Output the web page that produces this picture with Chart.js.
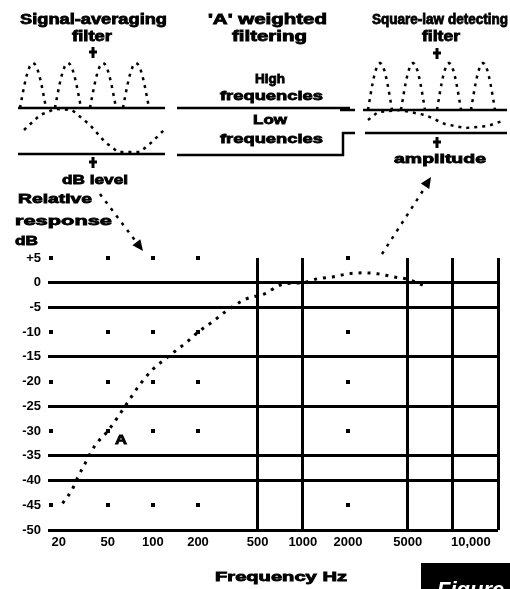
<!DOCTYPE html>
<html>
<head>
<meta charset="utf-8">
<script src="https://cdn.jsdelivr.net/npm/chart.js@4/dist/chart.umd.min.js"></script>
<style>
  html, body { margin: 0; padding: 0; background: #fff; }
  #wrap { width: 510px; height: 589px; position: relative; overflow: hidden; }
</style>
</head>
<body>
<div id="wrap"><canvas id="chart" width="510" height="589"></canvas></div>
<script>
// Frequency axis (Hz, logarithmic) and its printed labels
const freqTicks = [20, 50, 100, 200, 500, 1000, 2000, 5000, 10000, 20000];
const freqLabels = ['\u2007\u2007\u200720', '50', '100', '200', '500', '1000', '2000', '5000', '\u2007\u2007\u2007\u2007\u200710,000', ''];

// Relative response axis (dB)
const levelTicks = [5, 0, -5, -10, -15, -20, -25, -30, -35, -40, -45, -50];
const levelLabels = ['+5', '0', '-5', '-10', '-15', '-20', '-25', '-30', '-35', '-40', '-45', '-50'];

// Grid lines printed as full rules; the rest only show as dots at crossings
const solidLevels = [0, -5, -15, -25, -35, -40, -50];
const solidFreqs = [500, 1000, 5000, 10000, 20000];

// 'A'-weighting response curve
const responseFreq  = [25, 29, 31.5, 35, 41, 50, 58, 70, 80, 100, 120, 140, 170, 200, 250, 300, 410, 580, 650, 760, 1000, 1250, 1600, 2000, 2500, 3150, 4000, 5000, 6300];
const responseLevel = [-44.6, -41.8, -39.4, -36.8, -33, -30, -27.3, -23.6, -21, -17.5, -15.5, -13.9, -11.9, -10, -7.9, -6, -3.4, -2, -1, -0.2, 0, 0.8, 1.2, 1.8, 2, 1.8, 1.2, 0.7, -0.5];

const FONT = "'Liberation Sans', Arial, sans-serif";

// Draw text squeezed or stretched to span x1..x2, vertically centred on y
function fitText(ctx, str, x1, x2, y, size) {
  ctx.save();
  ctx.font = 'bold ' + size + 'px ' + FONT;
  ctx.fillStyle = '#000';
  ctx.strokeStyle = '#000';
  ctx.lineWidth = 0.8;
  ctx.textBaseline = 'middle';
  ctx.textAlign = 'left';
  const w = ctx.measureText(str).width;
  ctx.translate(x1, y);
  ctx.scale((x2 - x1) / w, 1);
  ctx.fillText(str, 0, 0);
  ctx.strokeText(str, 0, 0);
  ctx.restore();
}

function rule(ctx, x1, y1, x2, y2, w = 2.5) {
  ctx.save();
  ctx.strokeStyle = '#000';
  ctx.lineWidth = w;
  ctx.setLineDash([]);
  ctx.beginPath();
  ctx.moveTo(x1, y1);
  ctx.lineTo(x2, y2);
  ctx.stroke();
  ctx.restore();
}

function dotted(ctx, pts, w = 2.5, dash = [3, 4]) {
  ctx.save();
  ctx.strokeStyle = '#000';
  ctx.lineWidth = w;
  ctx.setLineDash(dash);
  ctx.beginPath();
  pts.forEach((p, i) => (i ? ctx.lineTo(p[0], p[1]) : ctx.moveTo(p[0], p[1])));
  ctx.stroke();
  ctx.restore();
}

// One rectified half-cycle drawn as a dotted hump
function hump(ctx, cx, base, h, halfW) {
  const pts = [];
  for (let i = 0; i <= 16; i++) {
    const t = i / 16;
    pts.push([cx - halfW + 2 * halfW * t, base - h * Math.sin(Math.PI * t)]);
  }
  dotted(ctx, pts, 2.5, [3, 5]);
}

// Small downward signal-flow arrow
function flowArrow(ctx, x, y) {
  rule(ctx, x, y, x, y + 11, 3);
  rule(ctx, x - 4, y + 5, x + 4, y + 5, 3);
}

function arrowHead(ctx, x, y, angle) {
  ctx.save();
  ctx.translate(x, y);
  ctx.rotate(angle);
  ctx.fillStyle = '#000';
  ctx.beginPath();
  ctx.moveTo(0, 0);
  ctx.lineTo(-11, -5);
  ctx.lineTo(-11, 5);
  ctx.closePath();
  ctx.fill();
  ctx.restore();
}

// Dots at crossings of the unprinted grid lines
const gridDots = {
  id: 'gridDots',
  beforeDatasetsDraw(chart) {
    const { ctx, scales: { x, y } } = chart;
    ctx.save();
    ctx.fillStyle = '#000';
    freqTicks.forEach(f => {
      if (solidFreqs.includes(f)) return;
      levelTicks.forEach(l => {
        if (solidLevels.includes(l)) return;
        const px = Math.round(x.getPixelForValue(f)) + (f === 20 ? 3 : 0);
        const py = Math.round(y.getPixelForValue(l));
        ctx.fillRect(px - 2, py - 2, 4, 4);
      });
    });
    ctx.restore();
  }
};

// Block diagram above the plot, axis titles and figure tab
const diagram = {
  id: 'diagram',
  afterDraw(chart) {
    const ctx = chart.ctx;

    // Left block: signal-averaging filter
    fitText(ctx, 'Signal-averaging', 20, 167, 20, 14);
    fitText(ctx, 'filter', 72, 112, 37, 14);
    flowArrow(ctx, 93, 47);
    [33, 68, 103, 136].forEach(cx => hump(ctx, cx, 108, 45, 13));
    rule(ctx, 18, 108, 165, 108, 2.5);
    dotted(ctx, [[24, 130], [40, 115], [55, 109], [72, 110], [90, 125], [105, 142], [118, 152], [140, 152], [152, 142], [164, 130]], 2.5, [3, 5]);
    rule(ctx, 18, 154, 165, 154, 2.5);
    flowArrow(ctx, 93, 157);
    fitText(ctx, 'dB level', 62, 128, 180, 13);
    dotted(ctx, [[100, 194], [137, 243]], 2.5, [3, 6]);
    arrowHead(ctx, 143, 251, Math.atan2(49, 37));

    // Middle block: 'A' weighted filtering
    fitText(ctx, "'A' weighted", 208, 327, 20, 14);
    fitText(ctx, 'filtering', 232, 307, 37, 14);
    fitText(ctx, 'High', 255, 285, 79, 13);
    fitText(ctx, 'frequencies', 220, 323, 96, 13);
    rule(ctx, 177, 108, 350, 108, 2.5);
    fitText(ctx, 'Low', 253, 287, 120, 13);
    fitText(ctx, 'frequencies', 220, 323, 139, 13);
    rule(ctx, 177, 155, 344, 155, 2.5);
    rule(ctx, 343, 156, 343, 132, 2.5);
    rule(ctx, 342, 133, 355, 133, 2.5);

    // Right block: square-law detecting filter
    fitText(ctx, 'Square-law detecting', 372, 508, 20, 14);
    fitText(ctx, 'filter', 422, 460, 37, 14);
    flowArrow(ctx, 437, 48);
    [380, 413, 449, 483].forEach(cx => hump(ctx, cx, 110, 47, 12));
    rule(ctx, 340, 110, 355, 110, 2.5);
    rule(ctx, 363, 110, 507, 110, 2.5);
    dotted(ctx, [[368, 120], [378, 112], [400, 110], [425, 115], [445, 124], [465, 128], [488, 126], [505, 120]], 2.5, [3, 5]);
    rule(ctx, 365, 133, 507, 133, 2.5);
    flowArrow(ctx, 437, 137);
    fitText(ctx, 'amplitude', 394, 486, 159, 13);
    dotted(ctx, [[382, 254], [424, 189]], 2.5, [3, 6]);
    arrowHead(ctx, 431, 177, Math.atan2(-65, 42));

    // Axis titles
    fitText(ctx, 'Relative', 18, 92, 199, 13);
    fitText(ctx, 'response', 15, 112, 221, 13);
    fitText(ctx, 'dB', 15, 38, 241, 13);
    fitText(ctx, 'Frequency Hz', 215, 347, 577, 13);

    // Curve marker
    fitText(ctx, 'A', 115, 127, 441, 12);

    // Figure tab in the lower-right corner
    ctx.save();
    ctx.fillStyle = '#000';
    ctx.fillRect(421, 563, 89, 26);
    ctx.font = 'italic bold 22px ' + FONT;
    ctx.fillStyle = '#fff';
    ctx.textBaseline = 'alphabetic';
    ctx.fillText('Figure', 437, 597);
    ctx.restore();
  }
};

new Chart(document.getElementById('chart'), {
  type: 'line',
  data: {
    datasets: [{
      data: responseFreq.map((f, i) => ({ x: f, y: responseLevel[i] })),
      borderColor: '#000',
      borderWidth: 3,
      borderDash: [3, 6],
      borderCapStyle: 'butt',
      pointRadius: 0,
      cubicInterpolationMode: 'monotone',
      fill: false
    }]
  },
  options: {
    responsive: false,
    animation: false,
    devicePixelRatio: 1,
    layout: { padding: { top: 258, right: 12, left: 0, bottom: 0 } },
    plugins: { legend: { display: false }, tooltip: { enabled: false } },
    scales: {
      x: {
        type: 'logarithmic',
        min: 20,
        max: 20000,
        afterBuildTicks: s => { s.ticks = freqTicks.map(v => ({ value: v })); },
        afterFit: s => { s.height = 59; },
        ticks: {
          autoSkip: false,
          maxRotation: 0,
          padding: 5,
          color: '#000',
          font: { family: FONT, size: 13, weight: 'bold' },
          callback: v => { const i = freqTicks.indexOf(v); return i >= 0 ? freqLabels[i] : ''; }
        },
        grid: {
          color: c => (c.tick && solidFreqs.includes(c.tick.value)) ? '#000' : 'rgba(0,0,0,0)',
          lineWidth: 3,
          drawTicks: false
        },
        border: { display: false }
      },
      y: {
        min: -50,
        max: 5,
        afterBuildTicks: s => { s.ticks = levelTicks.map(v => ({ value: v })); },
        afterFit: s => { s.width = 48; },
        ticks: {
          autoSkip: false,
          padding: 7,
          color: '#000',
          font: { family: FONT, size: 13, weight: 'bold' },
          callback: v => { const i = levelTicks.indexOf(v); return i >= 0 ? levelLabels[i] : ''; }
        },
        grid: {
          color: c => (c.tick && solidLevels.includes(c.tick.value)) ? '#000' : 'rgba(0,0,0,0)',
          lineWidth: 3,
          drawTicks: false
        },
        border: { display: false }
      }
    }
  },
  plugins: [gridDots, diagram]
});
</script>
</body>
</html>
